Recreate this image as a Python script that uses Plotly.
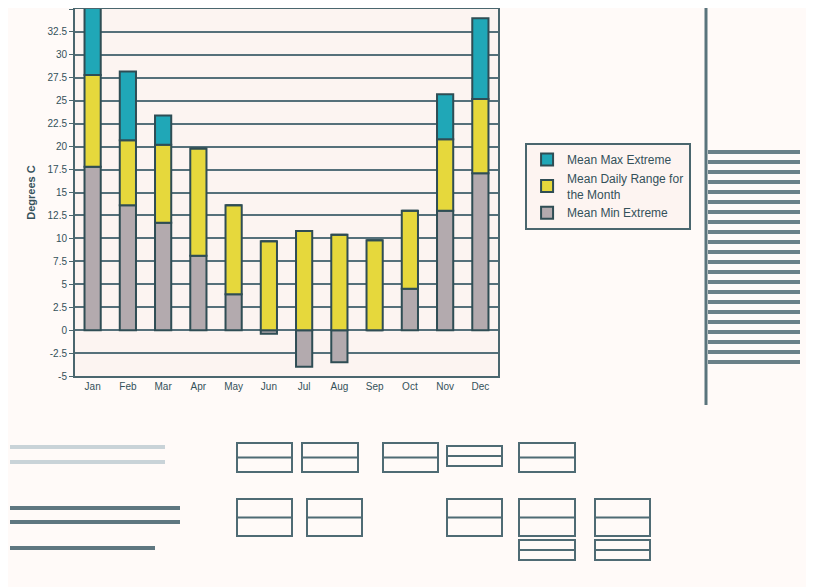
import plotly.graph_objects as go

months = ["Jan", "Feb", "Mar", "Apr", "May", "Jun", "Jul", "Aug", "Sep", "Oct", "Nov", "Dec"]
base_low = [17.8, 13.6, 11.7, 8.1, 3.9, -0.4, -4.0, -3.5, 0.0, 4.5, 13.0, 17.1]
daily_range = [10.0, 7.1, 8.5, 11.7, 9.7, 9.7, 10.8, 10.4, 9.8, 8.5, 7.8, 8.1]
peak_extra = [8.2, 7.5, 3.2, 0.0, 0.0, 0.0, 0.0, 0.0, 0.0, 0.0, 4.9, 8.8]
y_ticks = [-5, -2.5, 0, 2.5, 5, 7.5, 10, 12.5, 15, 17.5, 20, 22.5, 25, 27.5, 30, 32.5, 35]
y_tick_text = ["-5", "-2.5", "0", "2.5", "5", "7.5", "10", "12.5", "15", "17.5", "20", "22.5",
               "25", "27.5", "30", "32.5", "35"]

outline = dict(color="#2f4d54", width=2)
font_main = "Liberation Sans, Arial, sans-serif"
text_col = "#34515a"
deco_col = "#4f6b74"

fig = go.Figure()
fig.add_bar(x=months, y=base_low, name="Mean Min Extreme",
            marker=dict(color="#b3aaae", line=outline), width=0.46)
fig.add_bar(x=months, y=daily_range, name="Mean Daily Range for<br>the Month",
            marker=dict(color="#e6d83c", line=outline), width=0.46)
fig.add_bar(x=months, y=peak_extra, name="Mean Max Extreme",
            marker=dict(color="#20a7b7", line=outline), width=0.46)

fig.update_layout(
    barmode="relative",
    width=814, height=587,
    margin=dict(l=67, r=324, t=1, b=219, autoexpand=False),
    paper_bgcolor="#fffaf8",
    plot_bgcolor="#fcf4f1",
    font=dict(family=font_main, size=10, color=text_col),
    showlegend=True,
    legend=dict(
        x=1.064, y=0.635, xanchor="left", yanchor="top",
        traceorder="reversed",
        bgcolor="#fdf4f1", bordercolor="#4a666e", borderwidth=2,
        font=dict(family=font_main, size=12, color=text_col),
        itemwidth=30,
    ),
    xaxis=dict(
        showline=True, linecolor="#4a666e", linewidth=2, mirror=True,
        tickfont=dict(size=10, color=text_col),
        showgrid=False, automargin=False,
    ),
    yaxis=dict(
        range=[-5, 35], tickvals=y_ticks, ticktext=y_tick_text,
        showgrid=True, gridcolor="#55707a", gridwidth=2,
        showline=True, linecolor="#4a666e", linewidth=2, mirror=True,
        ticks="outside", ticklen=4, tickcolor="#4a666e",
        tickfont=dict(size=10, color=text_col),
        zeroline=False, automargin=False,
        title=dict(text="<b>Degrees C</b>", font=dict(size=11, color=text_col), standoff=10),
    ),
)


def px_x(sx):
    return (sx - 75) / 423


def px_y(sy):
    return (376 - sy) / 367


# right-hand separator line of the sheet
fig.add_shape(type="line", xref="paper", yref="paper",
              x0=px_x(706), x1=px_x(706), y0=px_y(405), y1=px_y(7),
              line=dict(color="#5a747c", width=3))

# sheet widgets below the chart (decorative outlines)
boxes = [(237, 443, 292, 472), (302, 443, 358, 472), (383, 443, 438, 472),
         (447, 446, 502, 466), (519, 443, 575, 472),
         (237, 499, 292, 536), (307, 499, 362, 536), (447, 499, 502, 536),
         (519, 499, 575, 536), (595, 499, 650, 536),
         (519, 540, 575, 560), (595, 540, 650, 560)]
for (x0, y0, x1, y1) in boxes:
    fig.add_shape(type="rect", xref="paper", yref="paper",
                  x0=px_x(x0), x1=px_x(x1), y0=px_y(y1), y1=px_y(y0),
                  line=dict(color=deco_col, width=2), fillcolor="rgba(0,0,0,0)")
    ym = (y0 + y1) / 2
    fig.add_shape(type="line", xref="paper", yref="paper",
                  x0=px_x(x0), x1=px_x(x1), y0=px_y(ym), y1=px_y(ym),
                  line=dict(color=deco_col, width=2))

# right-hand table rows (decorative)
for sy in range(152, 372, 10):
    fig.add_shape(type="line", xref="paper", yref="paper",
                  x0=px_x(708), x1=px_x(800), y0=px_y(sy), y1=px_y(sy),
                  line=dict(color="#6a8088", width=4))

# left-bottom text-like rows (decorative)
for (sx1, sy, col) in [(165, 447, "#c9d3d8"), (165, 462, "#c9d3d8"),
                       (180, 508, "#5f7780"), (180, 522, "#5f7780"), (155, 548, "#5f7780")]:
    fig.add_shape(type="line", xref="paper", yref="paper",
                  x0=px_x(10), x1=px_x(sx1), y0=px_y(sy), y1=px_y(sy),
                  line=dict(color=col, width=4))

fig.write_html("out.html")
